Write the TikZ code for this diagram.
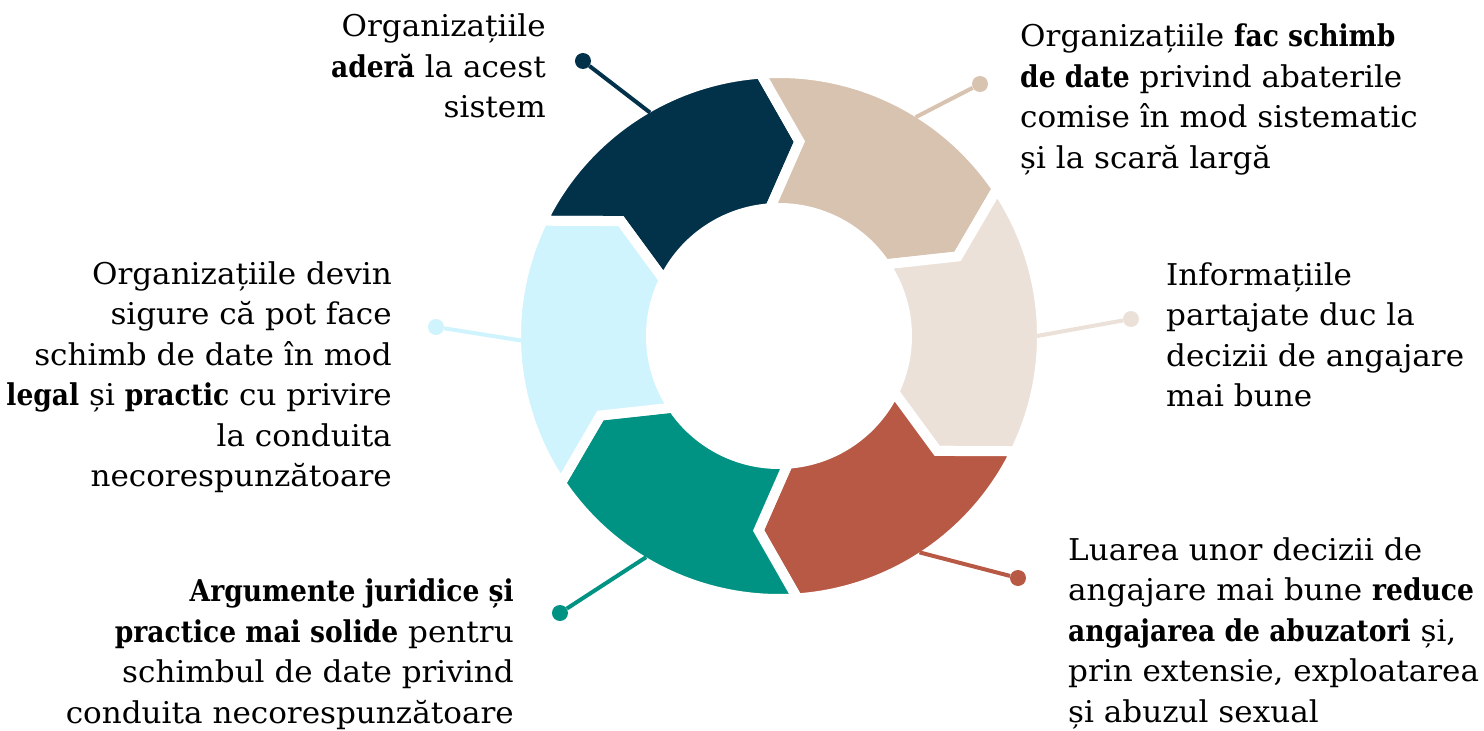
\documentclass[tikz,border=0pt]{standalone}
\usepackage{fontspec}
\setmainfont{DejaVu Serif}[FakeStretch=1.035,BoldFeatures={FakeStretch=0.885}]
\usepackage{tikz}
\usetikzlibrary{positioning,calc}

\definecolor{segnavy}{RGB}{2,49,74}
\definecolor{segbeige}{RGB}{216,195,176}
\definecolor{segsand}{RGB}{235,225,217}
\definecolor{segrust}{RGB}{183,89,68}
\definecolor{segteal}{RGB}{0,147,131}
\definecolor{segsky}{RGB}{207,244,253}

\begin{document}
\begin{tikzpicture}[x=1pt,y=1pt]
\useasboundingbox (-779,-395) rectangle (705,336);

% ring of six arrows, clockwise
\def\Ro{263}
\def\Ri{128}
\def\Rm{195.5}
\foreach \c [count=\i from 0] in {segnavy,segbeige,segsand,segrust,segteal,segsky} {
    \pgfmathsetmacro\a{154-60*\i}
    \pgfmathsetmacro\b{\a-60}
    \path[fill=\c, draw=white, line width=10pt, line join=miter]
        (\a:\Ro) arc[start angle=\a, end angle=\b, radius=\Ro]
        -- (\b-10:\Rm) -- (\b:\Ri)
        arc[start angle=\b, end angle=\a, radius=\Ri]
        -- (\a-10:\Rm) -- cycle;
}

\begin{scope}[every node/.style={circle,inner sep=0pt,minimum size=16pt}]
    \node[fill=segnavy]  (d1) at (-196,275) {};
    \node[fill=segbeige] (d2) at (201,252) {};
    \node[fill=segsand]  (d3) at (352,17) {};
    \node[fill=segrust]  (d4) at (239,-242) {};
    \node[fill=segteal]  (d5) at (-219,-277) {};
    \node[fill=segsky]   (d6) at (-343,9) {};
\end{scope}

\coordinate (e1) at (120:258);
\coordinate (e2) at (58:258);
\coordinate (e3) at (0:258);
\coordinate (e4) at (-57:258);
\coordinate (e5) at (-121:258);
\coordinate (e6) at (181:258);

\begin{scope}[line width=4pt]
    \draw[segnavy]  (d1) -- (e1);
    \draw[segbeige] (d2) -- (e2);
    \draw[segsand]  (d3) -- (e3);
    \draw[segrust]  (d4) -- (e4);
    \draw[segteal]  (d5) -- (e5);
    \draw[segsky]   (d6) -- (e6);
\end{scope}

% base anchor sits on the last line
\begin{scope}[every node/.style={inner sep=0pt,font=\fontsize{30}{40.5}\selectfont}]
    \node[anchor=base east,align=right] (t1) at (-233,218)
        {Organizațiile\\\textbf{aderă} la acest\\sistem};
    \node[anchor=base west,align=left] (t2) at (241,167.5)
        {Organizațiile \textbf{fac schimb}\\\textbf{de date} privind abaterile\\comise în mod sistematic\\și la scară largă};
    \node[anchor=base west,align=left] (t3) at (387,-70.5)
        {Informațiile\\partajate duc la\\decizii de angajare\\mai bune};
    \node[anchor=base west,align=left] (t4) at (289,-386)
        {Luarea unor decizii de\\angajare mai bune \textbf{reduce}\\\textbf{angajarea de abuzatori} și,\\prin extensie, exploatarea\\și abuzul sexual};
    \node[anchor=base east,align=right] (t5) at (-265,-387)
        {\textbf{Argumente juridice și}\\\textbf{practice mai solide} pentru\\schimbul de date privind\\conduita necorespunzătoare};
    \node[anchor=base east,align=right] (t6) at (-387,-150.5)
        {Organizațiile devin\\sigure că pot face\\schimb de date în mod\\\textbf{legal} și \textbf{practic} cu privire\\la conduita\\necorespunzătoare};
\end{scope}
\end{tikzpicture}
\end{document}
